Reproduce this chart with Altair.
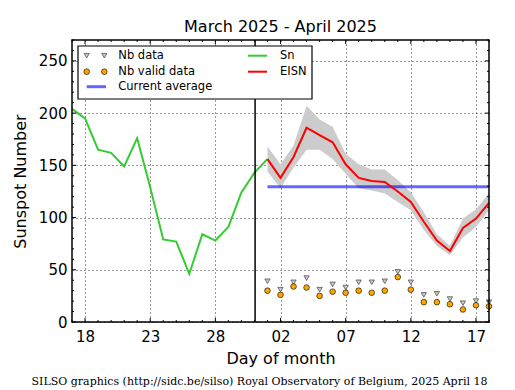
import altair as alt
import pandas as pd

# ---- data ----
# day index: March d -> d, April d -> 31 + d
sn_days = list(range(17, 33))  # Mar 17 .. Apr 1
sn_vals = [204, 195, 165, 162, 149, 176, 129, 79, 77, 46, 84, 78, 91, 124, 143, 156]

eisn_days = list(range(32, 50))  # Apr 1 .. Apr 18
eisn_vals = [156, 138, 158, 186, 179, 172, 151, 138, 135, 134, 125, 115, 96, 78, 68, 90, 99, 114]
eisn_hi = [168, 151, 169, 207, 194, 187, 161, 151, 146, 146, 136, 124, 105, 84, 73, 99, 108, 123]
eisn_lo = [144, 128, 148, 165, 165, 156, 142, 128, 126, 123, 115, 107, 88, 73, 64, 81, 91, 107]
nb_data = [39, 31, 38, 42, 31, 36, 33, 38, 38, 39, 48, 38, 26, 27, 22, 18, 20, 19]
nb_valid = [30, 26, 34, 33, 25, 29, 28, 30, 28, 30, 43, 31, 19, 19, 17, 12, 16, 15]

avg_value = 129.5
avg_days = [32, 49]
month_boundary = 31.05

x_major = [18, 23, 28, 33, 38, 43, 48]
x_minor = [d for d in range(17, 50) if d not in x_major]
y_major = [0, 50, 100, 150, 200, 250]
y_minor = [v for v in range(0, 271, 10) if v not in y_major]

title_text = "March 2025 - April 2025"
footer_text = "SILSO graphics (http://sidc.be/silso) Royal Observatory of Belgium, 2025 April 18"

W, H = 417, 282
F = "DejaVu Sans"

sn_df = pd.DataFrame({"day": sn_days, "v": sn_vals})
ei_df = pd.DataFrame({"day": eisn_days, "v": eisn_vals, "hi": eisn_hi, "lo": eisn_lo,
                      "nb": nb_data, "nbv": nb_valid})
avg_df = pd.DataFrame({"day": avg_days, "v": [avg_value] * len(avg_days)})

xs = alt.Scale(domain=[17, 49], nice=False, zero=False)
ys = alt.Scale(domain=[0, 270], nice=False)

label_expr = ("datum.value > 31 ? ((datum.value - 31) < 10 ? '0' + (datum.value - 31) : '' + (datum.value - 31))"
              " : '' + datum.value")

x_axis = alt.Axis(values=x_major, labelExpr=label_expr, grid=True, gridDash=[1, 3], gridColor="black",
                  gridOpacity=1, gridWidth=0.8, ticks=False, tickSize=0, domain=False,
                  labelFont=F, labelFontSize=15, labelColor="black", labelBaseline="alphabetic",
                  labelPadding=19, title="Day of month", titleFont=F, titleFontSize=16,
                  titleFontWeight="normal", titleColor="black", titleBaseline="alphabetic", titleY=41)
y_axis = alt.Axis(values=y_major, grid=True, gridDash=[1, 3], gridColor="black", gridOpacity=1,
                  gridWidth=0.8, ticks=False, tickSize=0, domain=False, labelFont=F, labelFontSize=15,
                  labelColor="black", labelPadding=5, title="Sunspot Number", titleFont=F,
                  titleFontSize=16, titleFontWeight="normal", titleColor="black",
                  titleBaseline="alphabetic", titleX=-47, titleY=141, titleAngle=270)

one = alt.Data(values=[{}])

band = alt.Chart(ei_df).mark_area(color="#cccccc", opacity=1).encode(
    x=alt.X("day:Q", scale=xs, axis=x_axis),
    y=alt.Y("lo:Q", scale=ys, axis=y_axis),
    y2="hi:Q",
)
avg_line = alt.Chart(avg_df).mark_line(color="blue", opacity=0.6, strokeWidth=3).encode(
    x="day:Q", y="v:Q")
sn_line = alt.Chart(sn_df).mark_line(color="#33cc33", strokeWidth=2).encode(x="day:Q", y="v:Q")
ei_line = alt.Chart(ei_df).mark_line(color="red", strokeWidth=2).encode(x="day:Q", y="v:Q")
tri = alt.Chart(ei_df).mark_point(shape="triangle-down", filled=True, fill="#c8c8c8", stroke="#555555",
                                  strokeWidth=0.8, size=28, opacity=1).encode(x="day:Q", y="nb:Q")
circ = alt.Chart(ei_df).mark_point(shape="circle", filled=True, fill="orange", stroke="black",
                                   strokeWidth=0.6, size=32, opacity=1).encode(x="day:Q", y="nbv:Q")
vline = alt.Chart(one).mark_rule(color="black", strokeWidth=1.5).encode(x=alt.datum(month_boundary))


def ticks(values, orient, length):
    d = pd.DataFrame({"t": values})
    if orient in ("bottom", "top"):
        y0 = H if orient == "bottom" else 0
        y1 = y0 - length if orient == "bottom" else length
        return alt.Chart(d).mark_rule(color="black", strokeWidth=1).encode(
            x="t:Q", y=alt.value(y0), y2=alt.value(y1))
    x0 = 0 if orient == "left" else W
    x1 = length if orient == "left" else W - length
    return alt.Chart(d).mark_rule(color="black", strokeWidth=1).encode(
        y="t:Q", x=alt.value(x0), x2=alt.value(x1))


tick_layers = [
    ticks(x_major, "bottom", 4), ticks(x_major, "top", 4),
    ticks(x_minor, "bottom", 2), ticks(x_minor, "top", 2),
    ticks(y_major, "left", 4), ticks(y_major, "right", 4),
    ticks(y_minor, "left", 2), ticks(y_minor, "right", 2),
]

frame = alt.Chart(one).mark_rect(fillOpacity=0, stroke="black", strokeWidth=1.5).encode(
    x=alt.value(0), x2=alt.value(W), y=alt.value(0), y2=alt.value(H))

# ---- legend (drawn by hand) ----
def ltext(txt, x, y):
    return alt.Chart(one).mark_text(align="left", baseline="middle", font=F, fontSize=11.5,
                                    color="black").encode(x=alt.value(x), y=alt.value(y),
                                                          text=alt.value(txt))


def lrule(color, x0, x1, y, width, opacity=1.0):
    return alt.Chart(one).mark_rule(color=color, strokeWidth=width, opacity=opacity).encode(
        x=alt.value(x0), x2=alt.value(x1), y=alt.value(y))


def lpoint(shape, fill, stroke, size, sw, x, y):
    return alt.Chart(one).mark_point(shape=shape, filled=True, fill=fill, stroke=stroke, size=size,
                                     strokeWidth=sw, opacity=1).encode(x=alt.value(x), y=alt.value(y))


r1, r2, r3 = 15.7, 31.7, 46.7
legend = [
    alt.Chart(one).mark_rect(fill="white", stroke="black", strokeWidth=1.2).encode(
        x=alt.value(6), x2=alt.value(240), y=alt.value(6), y2=alt.value(59)),
    lpoint("triangle-down", "#c8c8c8", "#555555", 28, 0.8, 14.7, r1),
    lpoint("triangle-down", "#c8c8c8", "#555555", 28, 0.8, 32.3, r1),
    lpoint("circle", "orange", "black", 32, 0.6, 14.7, r2),
    lpoint("circle", "orange", "black", 32, 0.6, 32.3, r2),
    lrule("blue", 14.7, 34, r3, 3, 0.6),
    ltext("Nb data", 46.3, r1),
    ltext("Nb valid data", 46.3, r2),
    ltext("Current average", 46.3, r3),
    lrule("#33cc33", 176, 195, r1, 2),
    lrule("red", 176, 195, r2, 2),
    ltext("Sn", 208, r1),
    ltext("EISN", 208, r2),
]

title = alt.Chart(one).mark_text(align="center", baseline="alphabetic", font=F, fontSize=16,
                                 color="black").encode(
    x=alt.value(W / 2), y=alt.value(-8), text=alt.value(title_text))

footer = alt.Chart(one).mark_text(align="center", baseline="alphabetic", font="DejaVu Serif",
                                  fontSize=11, color="black").encode(
    x=alt.value(187.5), y=alt.value(345), text=alt.value(footer_text))

chart = alt.layer(
    band, avg_line, sn_line, ei_line, tri, circ, vline, *tick_layers, frame, *legend, title, footer
).properties(
    width=W, height=H,
    autosize=alt.AutoSizeParams(type="none"),
    padding={"left": 64, "top": 32, "right": 18, "bottom": 68},
).configure_view(stroke=None)

chart.save("out.html", embed_options={"renderer": "svg", "actions": False})
